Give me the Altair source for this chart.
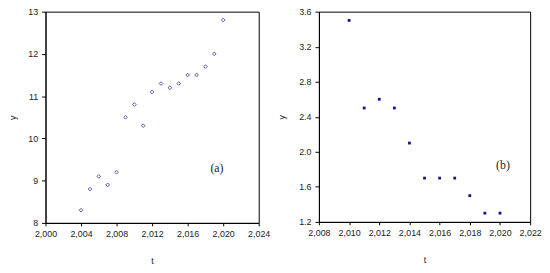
import altair as alt
import pandas as pd

t_a = [2004, 2005, 2006, 2007, 2008, 2009, 2010, 2011, 2012, 2013, 2014, 2015, 2016, 2017, 2018, 2019, 2020]
y_a = [8.3, 8.8, 9.1, 8.9, 9.2, 10.5, 10.8, 10.3, 11.1, 11.3, 11.2, 11.3, 11.5, 11.5, 11.7, 12.0, 12.8]
t_b = [2010, 2011, 2012, 2013, 2014, 2015, 2016, 2017, 2018, 2019, 2020]
y_b = [3.5, 2.5, 2.6, 2.5, 2.1, 1.7, 1.7, 1.7, 1.5, 1.3, 1.3]
xticks_a = [2000, 2004, 2008, 2012, 2016, 2020, 2024]
yticks_a = [8, 9, 10, 11, 12, 13]
xticks_b = [2008, 2010, 2012, 2014, 2016, 2018, 2020, 2022]
yticks_b = [1.2, 1.6, 2.0, 2.4, 2.8, 3.2, 3.6]
labels = ["(a)", "(b)"]
label_pos_a = [2019.3, 9.3]
label_pos_b = [2020.2, 1.85]

df_a = pd.DataFrame({"t": t_a, "y": y_a})
df_b = pd.DataFrame({"t": t_b, "y": y_b})

COLOR = "#14148a"
FONT = "Liberation Sans"


def xaxis(vals):
    return alt.Axis(values=vals, tickCount=50, format=",d", grid=False, tickSize=3, labelPadding=4,
                    labelFlush=False, labelOverlap=False, labelFontSize=9, labelColor="#222",
                    domainColor="black", tickColor="black", titleFontSize=9,
                    titleFontWeight="normal", titleY=38, titleBaseline="middle",
                    titleColor="#222", labelFont=FONT, titleFont=FONT)


def yaxis(vals, fmt, tx):
    return alt.Axis(values=vals, tickCount=50, format=fmt, grid=False, tickSize=4, labelPadding=4,
                    labelFlush=False, labelOverlap=False, labelFontSize=9, labelColor="#222",
                    domainColor="black", tickColor="black", titleFontSize=9,
                    titleFontWeight="normal", titleX=tx, titleAngle=-90,
                    titleBaseline="middle", titleColor="#222", labelFont=FONT, titleFont=FONT)


pts_a = alt.Chart(df_a).mark_point(shape="diamond", size=14, color=COLOR, strokeWidth=1, filled=False).encode(
    x=alt.X("t:Q", scale=alt.Scale(domain=[2000, 2024], nice=False, zero=False), axis=xaxis(xticks_a)),
    y=alt.Y("y:Q", scale=alt.Scale(domain=[8, 13], nice=False, zero=False), axis=yaxis(yticks_a, "d", -33)),
)
lab_a = alt.Chart(pd.DataFrame({"t": [label_pos_a[0]], "y": [label_pos_a[1]], "l": [labels[0]]})).mark_text(
    font="Liberation Serif", fontSize=12, color="#222").encode(x="t:Q", y="y:Q", text="l:N")
panel_a = (pts_a + lab_a).properties(width=216, height=214)

pts_b = alt.Chart(df_b).mark_square(size=8, color=COLOR, opacity=1).encode(
    x=alt.X("t:Q", scale=alt.Scale(domain=[2008, 2022], nice=False, zero=False), axis=xaxis(xticks_b)),
    y=alt.Y("y:Q", scale=alt.Scale(domain=[1.2, 3.6], nice=False, zero=False), axis=yaxis(yticks_b, ".1f", -38)),
)
lab_b = alt.Chart(pd.DataFrame({"t": [label_pos_b[0]], "y": [label_pos_b[1]], "l": [labels[1]]})).mark_text(
    font="Liberation Serif", fontSize=12, color="#222").encode(x="t:Q", y="y:Q", text="l:N")
panel_b = (pts_b + lab_b).properties(width=214, height=213)

chart = alt.hconcat(panel_a, panel_b, spacing=61, bounds="flush").properties(
    padding={"left": 0, "top": -3, "right": 0, "bottom": 0}, background="white"
).configure_view(stroke="black", strokeWidth=1)

chart.save("out.html", embed_options={"renderer": "svg", "actions": False})
